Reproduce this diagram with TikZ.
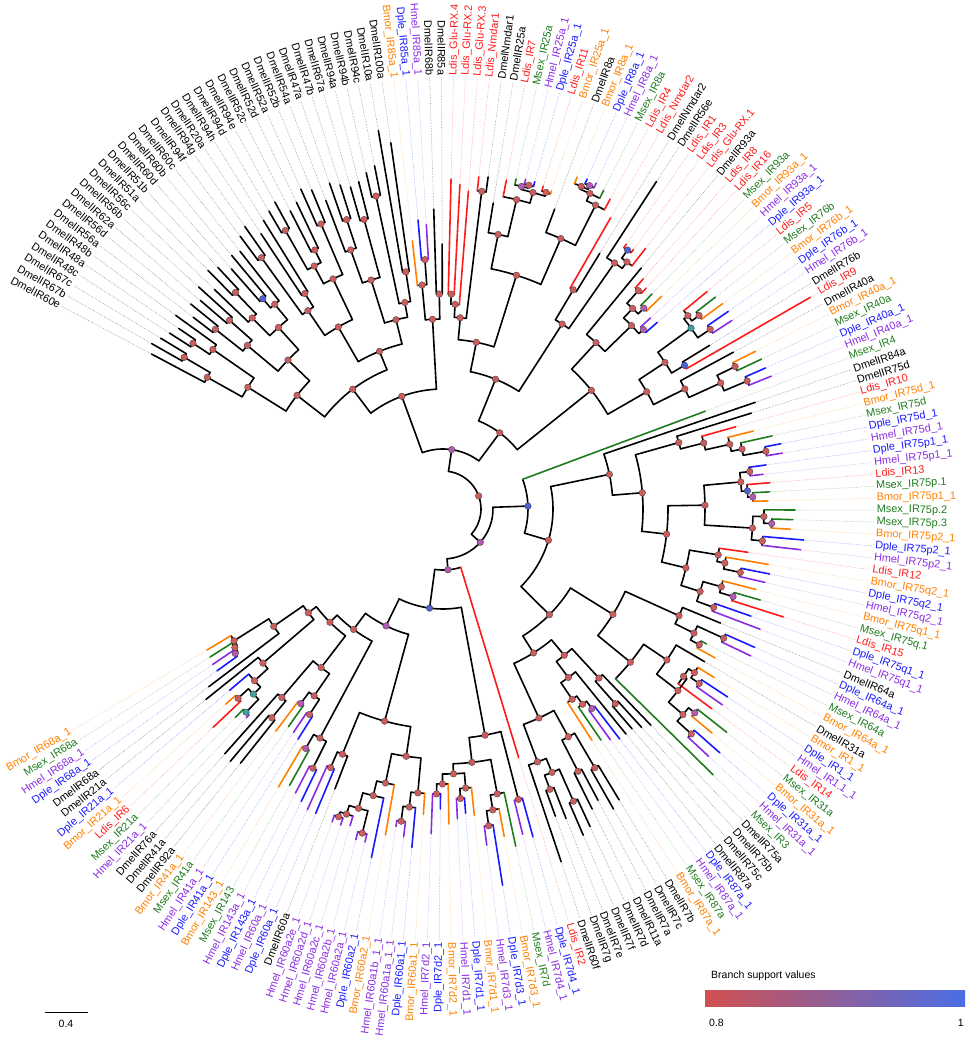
\documentclass[tikz,border=0pt]{standalone}
\usepackage{fontspec}
\setmainfont{Liberation Sans}
\definecolor{cdm}{HTML}{000000}
\definecolor{cld}{HTML}{FF1A1A}
\definecolor{cbm}{HTML}{FF8000}
\definecolor{cdp}{HTML}{1A1AFF}
\definecolor{chm}{HTML}{8A2BE2}
\definecolor{cms}{HTML}{1E7B1E}
\definecolor{sr}{HTML}{CD5C5C}
\definecolor{sp}{HTML}{B45AB4}
\definecolor{sb}{HTML}{5060D8}
\definecolor{st}{HTML}{3AA0A0}
\definecolor{gl}{HTML}{D25050}
\definecolor{gr}{HTML}{4A6EE6}
\def\Astart{152}
\def\Astep{1.585}
\def\Rlab{432}
\def\Rtxt{433.5}
\makeatletter
\gdef\dotlist{}
\newcommand\Lf[4]{%
  \pgfmathsetmacro\la{\Astart-(#1-1)*\Astep}%
  \expandafter\xdef\csname nA@L#1\endcsname{\la}%
  \expandafter\xdef\csname nC@L#1\endcsname{c#3}%
  \coordinate (L#1) at (\la:#2pt);
  \coordinate (E#1) at (\la:\Rlab pt);
  \coordinate (F#1) at (\la:\Rtxt pt);
  \draw[leader, color=c#3!45] (L#1) -- (E#1);
  \ifdim \la pt>90pt \pgfmathsetmacro\lr{\la-180}\def\lanc{east}%
  \else\ifdim \la pt<-90pt \pgfmathsetmacro\lr{\la+180}\def\lanc{east}%
  \else \let\lr\la \def\lanc{west}\fi\fi
  \node[lab, text=c#3, anchor=\lanc, rotate=\lr] (T#1) at (F#1) {#4};
}
\newcommand\Nd[4][sr]{%
  \edef\aa{\csname nA@#3\endcsname}%
  \edef\ab{\csname nA@#4\endcsname}%
  \edef\ca{\csname nC@#3\endcsname}%
  \edef\cb{\csname nC@#4\endcsname}%
  \pgfmathsetmacro\na{(\aa+\ab)/2}%
  \expandafter\xdef\csname nA@#2\endcsname{\na}%
  \expandafter\xdef\csname nC@#2\endcsname{black}%
  \coordinate (#2) at (\na:\nr pt);
  \draw[branch] (\aa:\nr pt) arc[start angle=\aa, end angle=\ab, radius=\nr pt];
  \draw[branch, color=\ca] (\aa:\nr pt) -- (#3);
  \draw[branch, color=\cb] (\ab:\nr pt) -- (#4);
  \g@addto@macro\dotlist{\supdot{#2}{#1}}%
}
% \N[color]{name}{radius}{child1}{child2}
\newcommand\N[5][sr]{\def\nr{#3}\Nd[#1]{#2}{#4}{#5}}
\newcommand\supdot[2]{\filldraw[fill=#2, draw=black!75, line width=0.35pt] (#1) circle[radius=3.3pt];}
\makeatother
\tikzset{
  branch/.style={line width=1.6pt, line cap=round},
  leader/.style={line width=0.55pt, densely dotted},
  lab/.style={font=\fontsize{10.9}{12}\selectfont, inner sep=0.2pt},
  legendtext/.style={font=\fontsize{10.5}{12}\selectfont, inner sep=0pt}
}
\begin{document}
\begin{tikzpicture}[x=1pt,y=1pt]
\useasboundingbox (-443,-532) rectangle (527,509);
% ---------------- leaves ----------------
\Lf{1}{330}{dm}{DmelIR60e}
\Lf{2}{335}{dm}{DmelIR67b}
\Lf{3}{330}{dm}{DmelIR67c}
\Lf{4}{325}{dm}{DmelIR48c}
\Lf{5}{320}{dm}{DmelIR48a}
\Lf{6}{330}{dm}{DmelIR48b}
\Lf{7}{315}{dm}{DmelIR56a}
\Lf{8}{325}{dm}{DmelIR56d}
\Lf{9}{320}{dm}{DmelIR62a}
\Lf{10}{330}{dm}{DmelIR56b}
\Lf{11}{317}{dm}{DmelIR56c}
\Lf{12}{335}{dm}{DmelIR51a}
\Lf{13}{330}{dm}{DmelIR51b}
\Lf{14}{320}{dm}{DmelIR60d}
\Lf{15}{330}{dm}{DmelIR60b}
\Lf{16}{328}{dm}{DmelIR60c}
\Lf{17}{340}{dm}{DmelIR94f}
\Lf{18}{345}{dm}{DmelIR94g}
\Lf{19}{330}{dm}{DmelIR20a}
\Lf{20}{340}{dm}{DmelIR94h}
\Lf{21}{345}{dm}{DmelIR94d}
\Lf{22}{350}{dm}{DmelIR94e}
\Lf{23}{335}{dm}{DmelIR52c}
\Lf{24}{340}{dm}{DmelIR52d}
\Lf{25}{350}{dm}{DmelIR52a}
\Lf{26}{345}{dm}{DmelIR52b}
\Lf{27}{330}{dm}{DmelIR54a}
\Lf{28}{345}{dm}{DmelIR47a}
\Lf{29}{340}{dm}{DmelIR47b}
\Lf{30}{335}{dm}{DmelIR67a}
\Lf{31}{338}{dm}{DmelIR94a}
\Lf{32}{345}{dm}{DmelIR94b}
\Lf{33}{350}{dm}{DmelIR94c}
\Lf{34}{384}{dm}{DmelIR10a}
\Lf{35}{370}{dm}{DmelIR100a}
\Lf{36}{270}{bm}{Bmor\_IR85a\_1}
\Lf{37}{290}{dp}{Dple\_IR85a\_1}
\Lf{38}{285}{hm}{Hmel\_IR85a\_1}
\Lf{39}{300}{dm}{DmelIR68b}
\Lf{40}{265}{dm}{DmelIR85a}
\Lf{41}{330}{ld}{Ldis\_Glu-RX.4}
\Lf{42}{325}{ld}{Ldis\_Glu-RX.2}
\Lf{43}{319}{ld}{Ldis\_Glu-RX.3}
\Lf{44}{334}{ld}{Ldis\_Nmdar1}
\Lf{45}{335}{dm}{DmelNmdar1}
\Lf{46}{310}{dm}{DmelIR25a}
\Lf{47}{335}{ld}{Ldis\_IR7}
\Lf{48}{338}{ms}{Msex\_IR25a}
\Lf{49}{340}{hm}{Hmel\_IR25a\_1}
\Lf{50}{340}{dp}{Dple\_IR25a\_1}
\Lf{51}{338}{ld}{Ldis\_IR11}
\Lf{52}{336}{bm}{Bmor\_IR25a\_1}
\Lf{53}{320}{dm}{DmelIR8a}
\Lf{54}{358}{bm}{Bmor\_IR8a\_1}
\Lf{55}{360}{dp}{Dple\_IR8a\_1}
\Lf{56}{360}{hm}{Hmel\_IR8a\_1}
\Lf{57}{357}{ms}{Msex\_IR8a}
\Lf{58}{352}{ld}{Ldis\_IR4}
\Lf{59}{336}{ld}{Ldis\_Nmdar2}
\Lf{60}{300}{dm}{DmelNmdar2}
\Lf{61}{391}{dm}{DmelIR56e}
\Lf{62}{322}{ld}{Ldis\_IR1}
\Lf{63}{322}{ld}{Ldis\_IR3}
\Lf{64}{330}{ld}{Ldis\_Glu-RX.1}
\Lf{65}{312}{dm}{DmelIR93a}
\Lf{66}{305}{ld}{Ldis\_IR8}
\Lf{67}{300}{ld}{Ldis\_IR16}
\Lf{68}{300}{ms}{Msex\_IR93a}
\Lf{69}{305}{bm}{Bmor\_IR93a\_1}
\Lf{70}{282}{hm}{Hmel\_IR93a\_1}
\Lf{71}{284}{dp}{Dple\_IR93a\_1}
\Lf{72}{342}{ld}{Ldis\_IR5}
\Lf{73}{345}{ms}{Msex\_IR76b}
\Lf{74}{347}{bm}{Bmor\_IR76b\_1}
\Lf{75}{347}{dp}{Dple\_IR76b\_1}
\Lf{76}{345}{hm}{Hmel\_IR76b\_1}
\Lf{77}{313}{dm}{DmelIR76b}
\Lf{78}{424}{ld}{Ldis\_IR9}
\Lf{79}{330}{dm}{DmelIR40a}
\Lf{80}{350}{bm}{Bmor\_IR40a\_1}
\Lf{81}{352}{ms}{Msex\_IR40a}
\Lf{82}{352}{dp}{Dple\_IR40a\_1}
\Lf{83}{354}{hm}{Hmel\_IR40a\_1}
\Lf{84}{280}{ms}{Msex\_IR4}
\Lf{85}{330}{dm}{DmelIR84a}
\Lf{86}{323}{dm}{DmelIR75d}
\Lf{87}{304}{ld}{Ldis\_IR10}
\Lf{88}{320}{bm}{Bmor\_IR75d\_1}
\Lf{89}{337}{ms}{Msex\_IR75d}
\Lf{90}{344}{dp}{Dple\_IR75d\_1}
\Lf{91}{344}{hm}{Hmel\_IR75d\_1}
\Lf{92}{326}{dp}{Dple\_IR75p1\_1}
\Lf{93}{322}{hm}{Hmel\_IR75p1\_1}
\Lf{94}{328}{ld}{Ldis\_IR13}
\Lf{95}{327}{ms}{Msex\_IR75p.1}
\Lf{96}{325}{bm}{Bmor\_IR75p1\_1}
\Lf{97}{352}{ms}{Msex\_IR75p.2}
\Lf{98}{350}{ms}{Msex\_IR75p.3}
\Lf{99}{348}{bm}{Bmor\_IR75p2\_1}
\Lf{100}{362}{dp}{Dple\_IR75p2\_1}
\Lf{101}{360}{hm}{Hmel\_IR75p2\_1}
\Lf{102}{308}{ld}{Ldis\_IR12}
\Lf{103}{330}{bm}{Bmor\_IR75q2\_1}
\Lf{104}{333}{dp}{Dple\_IR75q2\_1}
\Lf{105}{330}{hm}{Hmel\_IR75q2\_1}
\Lf{106}{323}{bm}{Bmor\_IR75q1\_1}
\Lf{107}{330}{ms}{Msex\_IR75q.1}
\Lf{108}{357}{ld}{Ldis\_IR15}
\Lf{109}{326}{dp}{Dple\_IR75q1\_1}
\Lf{110}{339}{hm}{Hmel\_IR75q1\_1}
\Lf{111}{300}{dm}{DmelIR64a}
\Lf{112}{341}{dp}{Dple\_IR64a\_1}
\Lf{113}{341}{hm}{Hmel\_IR64a\_1}
\Lf{114}{296}{ms}{Msex\_IR64a}
\Lf{115}{310}{bm}{Bmor\_IR64a\_1}
\Lf{116}{303}{dm}{DmelIR31a}
\Lf{117}{319}{bm}{Bmor\_IR1\_1}
\Lf{118}{341}{dp}{Dple\_IR1\_1}
\Lf{119}{341}{hm}{Hmel\_IR1.1\_1}
\Lf{120}{335}{ld}{Ldis\_IR14}
\Lf{121}{361}{ms}{Msex\_IR31a}
\Lf{122}{350}{bm}{Bmor\_IR31a\_1}
\Lf{123}{369}{dp}{Dple\_IR31a\_1}
\Lf{124}{363}{hm}{Hmel\_IR31a\_1}
\Lf{125}{379}{ms}{Msex\_IR3}
\Lf{126}{300}{dm}{DmelIR75a}
\Lf{127}{295}{dm}{DmelIR75b}
\Lf{128}{290}{dm}{DmelIR75c}
\Lf{129}{290}{dm}{DmelIR87a}
\Lf{130}{290}{dp}{Dple\_IR87a\_1}
\Lf{131}{285}{hm}{Hmel\_IR87a\_1}
\Lf{132}{280}{ms}{Msex\_IR87a}
\Lf{133}{275}{bm}{Bmor\_IR87a\_1}
\Lf{134}{340}{dm}{DmelIR7b}
\Lf{135}{345}{dm}{DmelIR7c}
\Lf{136}{330}{dm}{DmelIR7a}
\Lf{137}{335}{dm}{DmelIR11a}
\Lf{138}{350}{dm}{DmelIR7d}
\Lf{139}{355}{dm}{DmelIR7f}
\Lf{140}{333}{dm}{DmelIR7e}
\Lf{141}{327}{dm}{DmelIR7g}
\Lf{142}{372}{dm}{DmelIR60f}
\Lf{143}{260}{ld}{Ldis\_IR2}
\Lf{144}{340}{dp}{Dple\_IR7d4\_1}
\Lf{145}{335}{hm}{Hmel\_IR7d4\_1}
\Lf{146}{345}{ms}{Msex\_IR7d}
\Lf{147}{333}{bm}{Bmor\_IR7d3\_1}
\Lf{148}{381}{dp}{Dple\_IR7d3\_1}
\Lf{149}{339}{hm}{Hmel\_IR7d3\_1}
\Lf{150}{308}{bm}{Bmor\_IR7d1\_1}
\Lf{151}{305}{dp}{Dple\_IR7d1\_1}
\Lf{152}{310}{hm}{Hmel\_IR7d1\_1}
\Lf{153}{315}{bm}{Bmor\_IR7d2\_1}
\Lf{154}{300}{dp}{Dple\_IR7d2\_1}
\Lf{155}{325}{hm}{Hmel\_IR7d2\_1}
\Lf{156}{306}{bm}{Bmor\_IR60a1\_1}
\Lf{157}{340}{dp}{Dple\_IR60a1\_1}
\Lf{158}{330}{hm}{Hmel\_IR60a1a\_1\_1}
\Lf{159}{321}{hm}{Hmel\_IR60a1b\_1\_1}
\Lf{160}{331}{bm}{Bmor\_IR60a2\_1}
\Lf{161}{356}{dp}{Dple\_IR60a2\_1}
\Lf{162}{342}{hm}{Hmel\_IR60a2a\_1}
\Lf{163}{342}{hm}{Hmel\_IR60a2b\_1}
\Lf{164}{330}{hm}{Hmel\_IR60a2c\_1}
\Lf{165}{332}{hm}{Hmel\_IR60a2d\_1}
\Lf{166}{332}{hm}{Hmel\_IR60a2e\_1}
\Lf{167}{300}{dm}{DmelIR60a}
\Lf{168}{330}{dp}{Dple\_IR60a\_1}
\Lf{169}{330}{hm}{Hmel\_IR60a\_1}
\Lf{170}{325}{dp}{Dple\_IR143a\_1}
\Lf{171}{320}{hm}{Hmel\_IR143a\_1}
\Lf{172}{316}{ms}{Msex\_IR143}
\Lf{173}{323}{bm}{Bmor\_IR143\_1}
\Lf{174}{272}{dp}{Dple\_IR41a\_1}
\Lf{175}{269}{hm}{Hmel\_IR41a\_1}
\Lf{176}{267}{ms}{Msex\_IR41a}
\Lf{177}{278}{bm}{Bmor\_IR41a\_1}
\Lf{178}{325}{dm}{DmelIR92a}
\Lf{179}{330}{dm}{DmelIR41a}
\Lf{180}{328}{dm}{DmelIR76a}
\Lf{181}{287}{hm}{Hmel\_IR21a\_1}
\Lf{182}{294}{ms}{Msex\_IR21a}
\Lf{183}{317}{ld}{Ldis\_IR6}
\Lf{184}{292}{bm}{Bmor\_IR21a\_1}
\Lf{185}{280}{dp}{Dple\_IR21a\_1}
\Lf{186}{304}{dm}{DmelIR21a}
\Lf{187}{294}{dm}{DmelIR68a}
\Lf{188}{278}{dp}{Dple\_IR68a\_1}
\Lf{189}{278}{hm}{Hmel\_IR68a\_1}
\Lf{190}{276}{ms}{Msex\_IR68a}
\Lf{191}{275}{bm}{Bmor\_IR68a\_1}
% ---------------- internal nodes ----------------
\N{n1}{300}{L2}{L3}
\N{n2}{270}{L1}{n1}
\N{n3}{300}{L4}{L5}
\N{n4}{280}{n3}{L6}
\N{n5}{230}{n2}{n4}
\N{n6}{290}{L7}{L8}
\N{n7}{285}{L9}{L10}
\N{n8}{255}{n6}{n7}
\N{n9}{300}{L12}{L13}
\N{n10}{270}{L11}{n9}
\N[sb]{n11}{277}{L14}{L15}
\N{n12}{265}{n11}{L16}
\N{n13}{245}{n10}{n12}
\N{n14}{215}{n8}{n13}
\N{n15}{185}{n5}{n14}
\N{n16}{310}{L17}{L18}
\N{n17}{256}{L19}{L20}
\N{n18}{240}{n16}{n17}
\N{n19}{320}{L21}{L22}
\N{n20}{289}{L23}{L24}
\N{n21}{275}{n19}{n20}
\N{n22}{310}{L25}{L26}
\N{n23}{255}{n21}{n22}
\N{n24}{210}{n18}{n23}
\N{n25}{305}{L28}{L29}
\N{n26}{275}{L27}{n25}
\N{n27}{300}{L30}{L31}
\N{n28}{240}{n26}{n27}
\N{n29}{320}{L32}{L33}
\N{n30}{240}{L34}{L35}
\N{n31}{210}{n29}{n30}
\N{n32}{195}{n28}{n31}
\N{n33}{170}{n24}{n32}
\N{n34}{150}{n15}{n33}
\N{n35}{250}{L37}{L38}
\N{n36}{225}{L36}{n35}
\N{n37}{215}{L39}{L40}
\N{n38}{190}{n36}{n37}
\N{n39}{120}{n34}{n38}
\N{n40}{215}{L41}{L42}
\N{n41}{205}{n40}{L43}
\N{n42}{320}{L44}{L45}
\N{n43}{192}{n41}{n42}
\N{n44}{335}{L49}{L50}
\N[sp]{n45}{332}{L48}{n44}
\N{n46}{333}{L51}{L52}
\N{n47}{329}{n45}{n46}
\N{n48}{318}{L47}{n47}
\N{n49}{280}{L46}{n48}
\N[sp]{n50}{355}{L55}{L56}
\N{n51}{351}{L54}{n50}
\N{n52}{348}{n51}{L57}
\N{n53}{340}{n52}{L58}
\N{n54}{295}{L53}{n53}
\N{n55}{245}{n49}{n54}
\N{n56}{170}{n43}{n55}
\N{n57}{255}{L59}{L60}
\N[sb]{n58}{318}{L62}{L63}
\N{n59}{308}{n58}{L64}
\N{n60}{300}{L61}{n59}
\N{n61}{220}{n57}{n60}
\N{n62}{140}{n56}{n61}
\N{n63}{293}{L66}{L67}
\N[sp]{n64}{284}{L68}{L69}
\N{n66}{276}{n63}{n64}
\N[sp]{n65}{269}{L70}{L71}
\N{n67}{263}{n66}{n65}
\N{n68}{226}{L65}{n67}
\N{n69}{321}{L73}{L74}
\N{n70}{312}{L72}{n69}
\N{n71}{322}{L75}{L76}
\N[st]{n72}{307}{n70}{n71}
\N[sb]{n73}{281}{L77}{L78}
\N{n74}{266}{n72}{n73}
\N{n75}{325}{L80}{L81}
\N{n76}{330}{L82}{L83}
\N{n77}{305}{n75}{n76}
\N{n78}{270}{L79}{n77}
\N{n79}{235}{n74}{n78}
\N{n80}{190}{n68}{n79}
\N{n81}{95}{n62}{n80}
\N[sp]{n82}{60}{n39}{n81}
\N{n83}{328}{L90}{L91}
\N{n84}{305}{L89}{n83}
\N{n85}{294}{L88}{n84}
\N{n86}{269}{L87}{n85}
\N{n87}{245}{L86}{n86}
\N{n88}{309}{L92}{L93}
\N[sp]{n89}{310}{L95}{L96}
\N[sb]{n90}{305}{L94}{n89}
\N{n91}{299}{n88}{n90}
\N[sp]{n92}{329}{L98}{L99}
\N{n93}{321}{L97}{n92}
\N{n94}{321}{L100}{L101}
\N{n95}{310}{n93}{n94}
\N{n96}{262}{n91}{n95}
\N{n97}{304}{L104}{L105}
\N{n98}{287}{L103}{n97}
\N{n99}{279}{L102}{n98}
\N[sp]{n100}{303}{L107}{L108}
\N{n101}{289}{L106}{n100}
\N{n102}{288}{L109}{L110}
\N{n103}{270}{n101}{n102}
\N{n104}{250}{n99}{n103}
\N{n105}{225}{n96}{n104}
\N{n106}{200}{n87}{n105}
\N{n107}{170}{L85}{n106}
\N{n108}{309}{L112}{L113}
\N{n109}{290}{L114}{L115}
\N{n110}{280}{n108}{n109}
\N{n111}{259}{L111}{n110}
\N{n112}{310}{L118}{L119}
\N{n113}{300}{L117}{n112}
\N{n114}{293}{n113}{L120}
\N[sp]{n116}{324}{L121}{L122}
\N{n117}{335}{L123}{L124}
\N{n118}{316}{n116}{n117}
\N{n115}{297}{n114}{n118}
\N{n119b}{270}{L116}{n115}
\N{n119}{242}{n119b}{L125}
\N{n121}{200}{n111}{n119}
\N{n122}{260}{L127}{L128}
\N{n123}{230}{L126}{n122}
\N[sp]{n124}{249}{L130}{L131}
\N{n125}{240}{n124}{L132}
\N{n126}{230}{n125}{L133}
\N{n127}{210}{L129}{n126}
\N{n128}{190}{n123}{n127}
\N{n129}{300}{L134}{L135}
\N{n130}{295}{L136}{L137}
\N{n131}{260}{n129}{n130}
\N{n132}{320}{L138}{L139}
\N{n133}{300}{L140}{L141}
\N{n134}{285}{n132}{n133}
\N{n135}{270}{n134}{L142}
\N{n136}{230}{n131}{n135}
\N{n137}{170}{n128}{n136}
\N{n138}{150}{n121}{n137}
\N{n139}{300}{L144}{L145}
\N{n140}{320}{L148}{L149}
\N{n141}{305}{L147}{n140}
\N{n142}{290}{L146}{n141}
\N{n143}{290}{L151}{L152}
\N{n144}{280}{L150}{n143}
\N{n145}{285}{L154}{L155}
\N{n146}{275}{L153}{n145}
\N{n147}{265}{n144}{n146}
\N{n148}{255}{n142}{n147}
\N{n149}{230}{n139}{n148}
\N{n150}{315}{L158}{L159}
\N{n151}{300}{L157}{n150}
\N{n152}{285}{L156}{n151}
\N{n153}{334}{L162}{L163}
\N{n154}{325}{L165}{L166}
\N{n155}{320}{L164}{n154}
\N{n156}{311}{n153}{n155}
\N{n157}{295}{L161}{n156}
\N{n158}{280}{L160}{n157}
\N{n159}{250}{n152}{n158}
\N{n160}{282}{L168}{L169}
\N{n161}{265}{L167}{n160}
\N{n162}{220}{n159}{n161}
\N{n163}{290}{L170}{L171}
\N[sp]{n164}{276}{L172}{L173}
\N{n165}{260}{n163}{n164}
\N{n166}{245}{L174}{L175}
\N[sp]{n167}{241}{L176}{L177}
\N{n168}{227}{n166}{n167}
\N{n169}{270}{L178}{L179}
\N{n170}{248}{n169}{L180}
\N{n171}{200}{n168}{n170}
\N[st]{n172}{283}{L181}{L182}
\N{n173}{279}{L183}{L184}
\N[st]{n174}{265}{n172}{n173}
\N{n175}{255}{n174}{L185}
\N{n176}{237}{n175}{L186}
\N[sp]{n177}{253}{L188}{L189}
\N{n178}{250}{n177}{L190}
\N{n179}{247}{n178}{L191}
\N{n180}{206}{L187}{n179}
\N{n181}{170}{n176}{n180}
\N{n182}{160}{n171}{n181}
\N{n183}{150}{n165}{n182}
\N[sp]{n184}{130}{n162}{n183}
\N[sb]{n185}{100}{n149}{n184}
\N[sp]{n186}{61}{L143}{n185}
\N{n188}{110}{n107}{n138}
\N[sb]{n189}{85}{L84}{n188}
\N[sp]{n187}{50}{n189}{n186}
\N{n190}{38}{n82}{n187}
% support dots on top
\dotlist
% ---------------- scale bar ----------------
\coordinate (sbA) at (-398,-503);
\coordinate (sbB) at (-355,-503);
\draw[line width=0.8pt] (sbA) -- (sbB);
\node[legendtext, anchor=north] (sbT) at (-377,-511) {0.4};
% ---------------- legend ----------------
\node[legendtext, anchor=south west] (lgT) at (268,-472) {Branch support values};
\shade[left color=gl, right color=gr] (262,-481) rectangle (522,-497);
\node[legendtext, anchor=north west] (lg1) at (266,-510) {0.8};
\node[legendtext, anchor=north east] (lg2) at (521,-510) {1};
\end{tikzpicture}
\end{document}
